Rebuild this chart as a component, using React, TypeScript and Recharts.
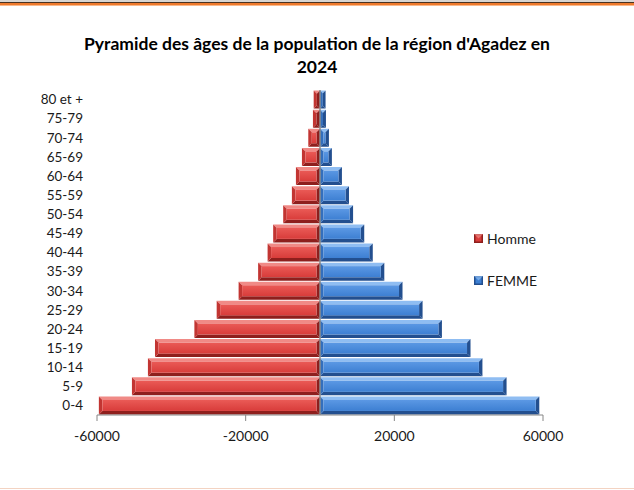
import { BarChart, Bar, XAxis, YAxis, ReferenceLine, Legend } from 'recharts'

const AGE_GROUPS = [
  '0-4', '5-9', '10-14', '15-19', '20-24', '25-29', '30-34', '35-39', '40-44',
  '45-49', '50-54', '55-59', '60-64', '65-69', '70-74', '75-79', '80 et +',
]
// hommes en négatif (côté gauche de la pyramide)
const HOMME = [
  -59500, -50600, -46300, -44400, -33800, -27800, -21900, -16650, -14100,
  -12600, -9900, -7560, -6480, -4860, -3150, -1900, -1700,
]
const FEMME = [
  59000, 50200, 43700, 40500, 32800, 27600, 22200, 17300, 14200,
  11900, 8900, 7800, 5900, 3200, 2400, 1600, 1500,
]
const X_TICKS = [-60000, -20000, 20000, 60000]

const data = AGE_GROUPS.map((age, i) => ({ age, Homme: HOMME[i], FEMME: FEMME[i] }))

const RED = { light: '#f08a86', face: '#d83c3a', faceTop: '#ea5a56', dark: '#8e1f1d', side: '#c23532' }
const BLUE = { light: '#8fbdf2', face: '#3d7fd2', faceTop: '#5b98e4', dark: '#234f8f', side: '#336fbd' }
const FONT = 'Lato, "Liberation Sans", sans-serif'

function BevelBar(props: any) {
  const { x, y, width, height, tone, gid } = props
  const x0 = Math.min(x, x + width)
  const w = Math.abs(width)
  if (!w || !height) return null
  const x1 = x0 + w
  const y1 = y + height
  const b = Math.min(3.5, w / 2, height / 3)
  return (
    <g>
      <polygon points={`${x0},${y} ${x1},${y} ${x1 - b},${y + b} ${x0 + b},${y + b}`} fill={tone.light} />
      <polygon points={`${x0},${y1} ${x1},${y1} ${x1 - b},${y1 - b} ${x0 + b},${y1 - b}`} fill={tone.dark} />
      <polygon points={`${x0},${y} ${x0 + b},${y + b} ${x0 + b},${y1 - b} ${x0},${y1}`} fill={tone.side} />
      <polygon points={`${x1},${y} ${x1 - b},${y + b} ${x1 - b},${y1 - b} ${x1},${y1}`} fill={tone.dark} />
      <rect x={x0 + b} y={y + b} width={Math.max(0, w - 2 * b)} height={Math.max(0, height - 2 * b)} fill={`url(#${gid})`} />
    </g>
  )
}

function LegendBox({ tone, label }: { tone: any; label: string }) {
  return (
    <div style={{ display: 'flex', alignItems: 'center', height: 18 }}>
      <svg width={9} height={9} style={{ marginRight: 4 }}>
        <rect x={0} y={0} width={9} height={9} fill={tone.dark} />
        <rect x={1.5} y={1.5} width={6} height={6} fill={tone.face} />
        <polygon points="0,0 9,0 4.5,4.5" fill={tone.light} opacity={0.7} />
      </svg>
      <span>{label}</span>
    </div>
  )
}

function renderLegend() {
  return (
    <div style={{ fontFamily: FONT, fontSize: 14, color: '#1a1a1a' }}>
      <LegendBox tone={RED} label="Homme" />
      <div style={{ height: 24 }} />
      <LegendBox tone={BLUE} label="FEMME" />
    </div>
  )
}

export default function App() {
  return (
    <div style={{ position: 'absolute', left: 0, top: 0, width: 634, height: 490, background: '#fff', overflow: 'hidden' }}>
      <div style={{ position: 'absolute', left: 0, top: 0, width: 634, height: 2, background: '#d9d6d2' }} />
      <div style={{ position: 'absolute', left: 0, top: 2, width: 634, height: 1, background: '#4a3322' }} />
      <div style={{ position: 'absolute', left: 0, top: 3, width: 634, height: 2, background: '#ef7a2c' }} />
      <div style={{ position: 'absolute', left: 0, top: 5, width: 634, height: 1, background: '#f8b98c' }} />
      <div style={{ position: 'absolute', left: 0, top: 488, width: 634, height: 1, background: '#f3d3c2' }} />

      <div
        style={{
          position: 'absolute', left: 0, top: 32, width: 634, textAlign: 'center',
          fontFamily: FONT, fontWeight: 'bold', fontSize: 17.5, lineHeight: '23px', color: '#000',
        }}
      >
        Pyramide des âges de la population de la région d'Agadez en
        <br />
        2024
      </div>

      <BarChart
        width={634}
        height={490}
        data={data}
        layout="vertical"
        stackOffset="sign"
        barCategoryGap="3%"
        margin={{ top: 90, right: 91, bottom: 45, left: 17 }}
        style={{ position: 'absolute', left: 0, top: 0 }}
      >
        <defs>
          <linearGradient id="gRed" x1="0" y1="0" x2="0" y2="1">
            <stop offset="0%" stopColor={RED.faceTop} />
            <stop offset="100%" stopColor={RED.face} />
          </linearGradient>
          <linearGradient id="gBlue" x1="0" y1="0" x2="0" y2="1">
            <stop offset="0%" stopColor={BLUE.faceTop} />
            <stop offset="100%" stopColor={BLUE.face} />
          </linearGradient>
        </defs>
        <XAxis
          type="number"
          domain={[-60000, 60000]}
          ticks={X_TICKS}
          stroke="#868686"
          tick={{ fill: '#1a1a1a', fontSize: 14, fontFamily: FONT }}
          tickSize={6}
          tickMargin={10}
          height={30}
        />
        <YAxis
          type="category"
          dataKey="age"
          reversed
          interval={0}
          axisLine={false}
          tickLine={false}
          tickSize={0}
          tickMargin={14}
          width={80}
          tick={{ fill: '#1a1a1a', fontSize: 13.5, fontFamily: FONT }}
        />
        <Legend
          layout="vertical"
          align="center"
          verticalAlign="middle"
          content={renderLegend}
          wrapperStyle={{ left: 474, top: 229, width: 'auto', height: 'auto' }}
        />
        <Bar
          dataKey="Homme"
          stackId="p"
          fill={RED.face}
          isAnimationActive={false}
          shape={(p: any) => <BevelBar {...p} tone={RED} gid="gRed" />}
        />
        <Bar
          dataKey="FEMME"
          stackId="p"
          fill={BLUE.face}
          isAnimationActive={false}
          shape={(p: any) => <BevelBar {...p} tone={BLUE} gid="gBlue" />}
        />
        <ReferenceLine x={0} stroke="#8c8c8c" strokeWidth={1.5} />
      </BarChart>
    </div>
  )
}
